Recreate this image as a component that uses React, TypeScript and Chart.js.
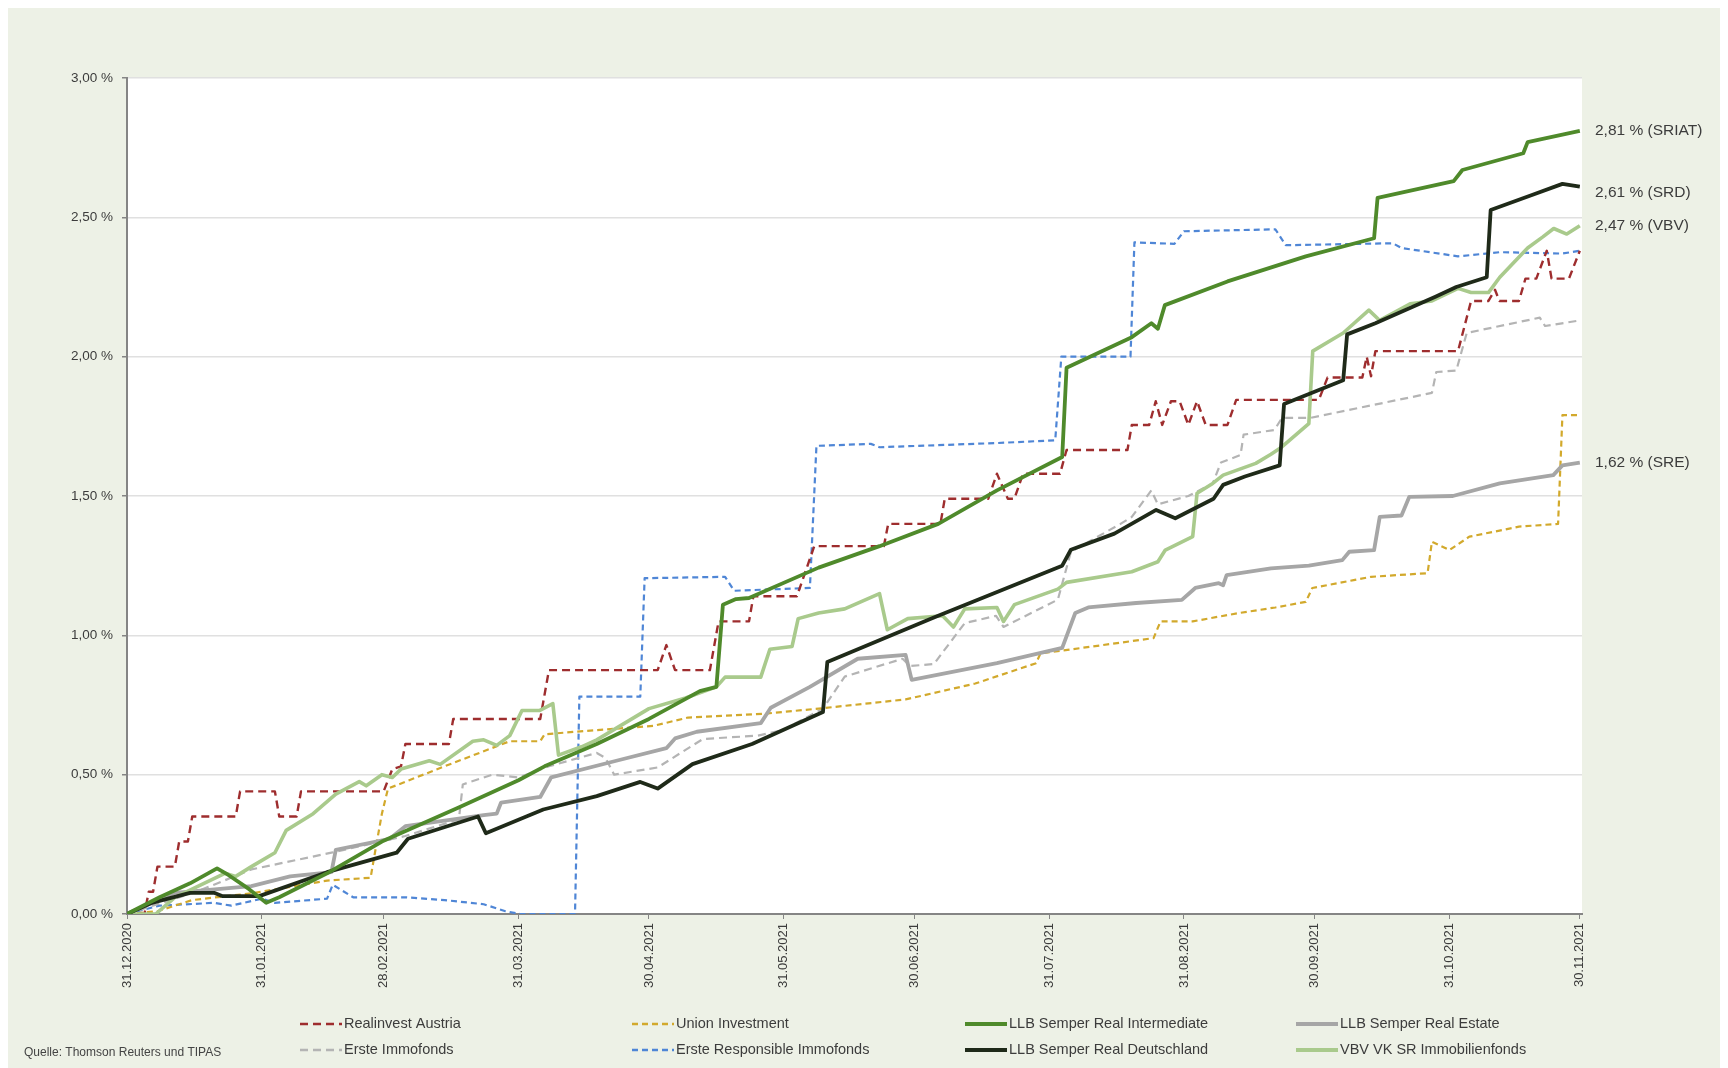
import React, { useEffect, useRef } from "react";
import { Chart, registerables } from "chart.js";

Chart.register(...registerables);

// ---------- data ----------
const monthEndDays = [0, 31, 59, 90, 120, 151, 181, 212, 243, 273, 304, 334];
const monthEndLabels = [
  "31.12.2020", "31.01.2021", "28.02.2021", "31.03.2021", "30.04.2021", "31.05.2021",
  "30.06.2021", "31.07.2021", "31.08.2021", "30.09.2021", "31.10.2021", "30.11.2021",
];
const yTickValues = [0, 0.5, 1, 1.5, 2, 2.5, 3];

const seriesNames = [
  "Realinvest Austria",
  "Union Investment",
  "LLB Semper Real Intermediate",
  "LLB Semper Real Estate",
  "Erste Immofonds",
  "Erste Responsible Immofonds",
  "LLB Semper Real Deutschland",
  "VBV VK SR Immobilienfonds",
];

// [day since 31.12.2020, performance in %]
const realinvestAustria: [number, number][] = [
  [0, 0], [4, 0], [5, 0.08], [6, 0.08], [7, 0.17], [11, 0.17], [12, 0.26], [14, 0.26], [15, 0.35],
  [25, 0.35], [26, 0.44], [34, 0.44], [35, 0.35], [39, 0.35], [40, 0.44], [59, 0.44], [61, 0.52],
  [63, 0.53], [64, 0.61], [74, 0.61], [75, 0.7], [95, 0.7], [97, 0.875], [122, 0.875], [124, 0.965],
  [126, 0.875], [134, 0.875], [136, 1.05], [143, 1.05], [144, 1.14], [154, 1.14], [158, 1.32],
  [174, 1.32], [175, 1.4], [187, 1.4], [188, 1.49], [198, 1.49], [200, 1.58], [202.5, 1.49],
  [204, 1.49], [206, 1.58], [214.5, 1.58], [216, 1.665], [230, 1.665], [231, 1.755], [235, 1.755],
  [236.5, 1.84], [238, 1.755], [240, 1.84], [242, 1.84], [244, 1.755], [246, 1.84], [248, 1.755],
  [253, 1.755], [255, 1.845], [274, 1.845], [276, 1.925], [284, 1.925], [285, 2.0], [286, 1.93],
  [287, 2.02], [306, 2.02], [309, 2.2], [313, 2.2], [314.5, 2.24], [315.5, 2.2], [320, 2.2],
  [321.5, 2.28], [324, 2.28], [326.4, 2.38], [327.5, 2.28], [331.5, 2.28], [334, 2.38],
];

const unionInvestment: [number, number][] = [
  [0, 0], [7, 0.01], [15, 0.05], [29, 0.075], [46, 0.12], [56, 0.13], [57, 0.22], [58.6, 0.36],
  [60, 0.45], [73, 0.53], [88, 0.62], [95, 0.62], [96, 0.645], [108, 0.66], [121, 0.675],
  [129, 0.705], [146, 0.718], [159, 0.737], [179, 0.77], [195, 0.827], [209, 0.9], [210, 0.935],
  [222, 0.96], [236, 0.99], [237.6, 1.05], [245, 1.05], [255.6, 1.08], [264, 1.1], [271, 1.12],
  [272.5, 1.17], [282, 1.198], [286, 1.21], [299, 1.223], [300, 1.336], [304, 1.306],
  [308.6, 1.354], [320, 1.39], [329, 1.4], [330, 1.79], [334, 1.79],
];

const llbSemperRealIntermediate: [number, number][] = [
  [0, 0], [7.5, 0.06], [14.5, 0.11], [20.7, 0.164], [23.3, 0.14], [28, 0.09], [32, 0.04],
  [35, 0.06], [46, 0.146], [58.6, 0.26], [76, 0.38], [90, 0.48], [96, 0.53], [108, 0.61],
  [120, 0.7], [131.7, 0.8], [135.5, 0.815], [137, 1.11], [140, 1.13], [143, 1.134], [159, 1.243],
  [173, 1.32], [186.5, 1.4], [200, 1.52], [215, 1.64], [216, 1.96], [231, 2.07], [235.5, 2.12],
  [237, 2.1], [238.6, 2.185], [253, 2.27], [271, 2.36], [286.7, 2.425], [287.5, 2.57], [305, 2.63],
  [307, 2.67], [321, 2.73], [322, 2.77], [334, 2.81],
];

const llbSemperRealEstate: [number, number][] = [
  [0, 0], [11, 0.076], [28.6, 0.1], [37.5, 0.135], [47, 0.15], [48, 0.23], [60.4, 0.27],
  [64, 0.315], [82, 0.355], [85, 0.36], [86, 0.4], [95, 0.42], [97.5, 0.49], [112.5, 0.55],
  [124, 0.595], [126, 0.63], [131, 0.654], [145.7, 0.685], [148, 0.74], [157, 0.815], [168, 0.916],
  [179, 0.93], [180.4, 0.84], [200, 0.9], [215, 0.955], [218, 1.08], [221, 1.1], [232, 1.116],
  [242.5, 1.127], [245.6, 1.17], [251, 1.187], [252, 1.18], [252.8, 1.216], [263, 1.24],
  [271.7, 1.25], [279.4, 1.27], [281, 1.3], [286.7, 1.306], [288, 1.425], [293, 1.43],
  [294.8, 1.497], [304.8, 1.5], [315.6, 1.545], [327.9, 1.575], [330, 1.61], [334, 1.62],
];

const ersteImmofonds: [number, number][] = [
  [0, 0], [15, 0.075], [20, 0.105], [28.6, 0.16], [47, 0.22], [64, 0.28], [76.3, 0.34],
  [77.2, 0.465], [84, 0.5], [90, 0.49], [97, 0.53], [108, 0.578], [110, 0.56], [112, 0.5],
  [122, 0.526], [132.4, 0.628], [145, 0.64], [150.8, 0.66], [160, 0.737], [165, 0.852],
  [178.3, 0.916], [180, 0.89], [185.5, 0.897], [192.6, 1.044], [199.8, 1.07], [201.5, 1.03],
  [214, 1.128], [217, 1.3], [228.4, 1.4], [231, 1.425], [235.5, 1.52], [237, 1.47], [244, 1.5],
  [249.6, 1.545], [251.5, 1.62], [256, 1.647], [256.7, 1.72], [263.8, 1.737], [265.5, 1.78],
  [272, 1.78], [300, 1.87], [301, 1.945], [305.6, 1.95], [308, 2.085], [324.8, 2.14], [326, 2.11],
  [334, 2.13],
];

const ersteResponsibleImmofonds: [number, number][] = [
  [0, 0], [7.5, 0.03], [20, 0.04], [24, 0.03], [31, 0.055], [34, 0.04], [46, 0.055], [47.3, 0.105],
  [52, 0.06], [64, 0.06], [73, 0.05], [82, 0.035], [87, 0.01], [90.4, 0], [103, 0], [104, 0.78],
  [118, 0.78], [119, 1.205], [137.5, 1.21], [139.6, 1.16], [157, 1.17], [158.5, 1.68], [171, 1.687],
  [173, 1.675], [200, 1.69], [213.4, 1.7], [214.8, 2.0], [230.7, 2.0], [231.6, 2.41], [240.8, 2.405],
  [243, 2.45], [264, 2.457], [266.4, 2.4], [291, 2.407], [293, 2.39], [306, 2.36], [315.6, 2.375],
  [330, 2.37], [334, 2.38],
];

const llbSemperRealDeutschland: [number, number][] = [
  [0, 0], [5.7, 0.04], [14.5, 0.076], [20, 0.076], [22, 0.064], [30.4, 0.064], [46, 0.15],
  [62, 0.22], [64.6, 0.27], [80.7, 0.35], [82.5, 0.29], [95.7, 0.375], [108, 0.423], [118, 0.474],
  [122, 0.45], [130, 0.538], [143.7, 0.61], [160, 0.725], [161, 0.904], [185.5, 1.064], [215, 1.25],
  [217, 1.307], [227, 1.365], [236.6, 1.45], [241, 1.42], [249.8, 1.49], [252, 1.54], [257, 1.57],
  [265, 1.61], [266, 1.83], [279.6, 1.915], [280.5, 2.08], [287, 2.12], [300.8, 2.215],
  [305.6, 2.25], [312.6, 2.285], [313.5, 2.526], [323, 2.58], [330, 2.62], [334, 2.61],
];

const vbvVkSrImmobilienfonds: [number, number][] = [
  [0, 0], [6.6, 0], [11, 0.06], [22.5, 0.146], [25, 0.135], [28.6, 0.17], [34, 0.22], [36.6, 0.3],
  [42.8, 0.36], [48, 0.43], [53.4, 0.475], [55, 0.46], [58.6, 0.5], [61, 0.49], [63, 0.52],
  [69.5, 0.55], [72, 0.537], [79.5, 0.62], [82, 0.625], [85, 0.605], [88, 0.64], [90.8, 0.73],
  [94.8, 0.73], [97.9, 0.755], [99.2, 0.57], [104.5, 0.6], [108, 0.625], [120, 0.737],
  [128.4, 0.775], [135.5, 0.815], [137.5, 0.85], [145.7, 0.85], [147.8, 0.95], [152.9, 0.96],
  [154.3, 1.06], [159, 1.08], [165, 1.095], [173, 1.15], [174.8, 1.02], [179.5, 1.06],
  [187.5, 1.07], [190, 1.03], [192.6, 1.095], [200, 1.1], [201.5, 1.05], [204, 1.11], [214, 1.166],
  [216, 1.19], [231, 1.228], [237, 1.264], [238.7, 1.306], [245, 1.354], [246, 1.51],
  [249.6, 1.545], [252, 1.575], [259.5, 1.617], [263, 1.65], [265.5, 1.676], [271.7, 1.76],
  [272.6, 2.02], [279.6, 2.085], [285.5, 2.167], [288, 2.13], [295, 2.19], [300, 2.2],
  [306, 2.245], [309, 2.23], [313, 2.23], [315.6, 2.285], [322, 2.39], [325.5, 2.43], [328, 2.46],
  [331, 2.44], [334, 2.47],
];

const seriesData = [
  realinvestAustria,
  unionInvestment,
  llbSemperRealIntermediate,
  llbSemperRealEstate,
  ersteImmofonds,
  ersteResponsibleImmofonds,
  llbSemperRealDeutschland,
  vbvVkSrImmobilienfonds,
];

const endLabelValues = [2.81, 2.61, 2.47, 1.62];
const endLabelTexts = ["2,81 % (SRIAT)", "2,61 % (SRD)", "2,47 % (VBV)", "1,62 % (SRE)"];
const sourceText = "Quelle: Thomson Reuters und TIPAS";

// ---------- styles ----------
const FONT = '"Liberation Sans", Arial, sans-serif';
const TEXT = "#3c3c3c";
const AXIS = "#858585";
const seriesColors = ["#9E2D2E", "#D2A92C", "#4F8A2B", "#A6A6A6", "#B4B4B4", "#4F86D6", "#1F2A19", "#A9CA8C"];
const seriesWidths = [2.4, 2.2, 3.8, 3.8, 2.2, 2.2, 3.8, 3.6];
const seriesDashes: number[][] = [[8, 5], [6, 4], [], [], [8, 5], [6, 4], [], []];
const seriesOrder = [4, 5, 0, 3, 6, 7, 1, 2];
const endLabelNudge = [0, 6, 0, 0];

const W = 1720;
const H = 1060;
const legendColX = [292, 624, 957, 1288];
const legendRowY = [1016, 1042];
const legendSampleLen = 42;

const plotBg = {
  id: "plotBg",
  beforeDraw(chart: any) {
    const { ctx, chartArea: a } = chart;
    ctx.save();
    ctx.fillStyle = "#ffffff";
    ctx.fillRect(a.left, a.top, a.right - a.left, a.bottom - a.top);
    ctx.restore();
  },
};

const annotations = {
  id: "annotations",
  afterDraw(chart: any) {
    const { ctx, chartArea: a } = chart;
    const yScale = chart.scales.y;
    ctx.save();
    ctx.fillStyle = TEXT;
    ctx.font = `15.5px ${FONT}`;
    ctx.textAlign = "left";
    ctx.textBaseline = "middle";
    endLabelValues.forEach((v, i) => {
      ctx.fillText(endLabelTexts[i], a.right + 13, yScale.getPixelForValue(v) + endLabelNudge[i]);
    });
    ctx.font = `14.5px ${FONT}`;
    seriesNames.forEach((name, i) => {
      const row = Math.floor(i / 4);
      const col = i % 4;
      const x = legendColX[col];
      const y = legendRowY[row];
      ctx.save();
      ctx.strokeStyle = seriesColors[i];
      ctx.lineWidth = seriesDashes[i].length ? 2.6 : 4;
      ctx.setLineDash(seriesDashes[i]);
      ctx.beginPath();
      ctx.moveTo(x, y);
      ctx.lineTo(x + legendSampleLen, y);
      ctx.stroke();
      ctx.restore();
      ctx.fillStyle = TEXT;
      ctx.fillText(name, x + legendSampleLen + 2, y);
    });
    ctx.font = `12px ${FONT}`;
    ctx.fillStyle = "#444";
    ctx.fillText(sourceText, 16, 1045);
    ctx.restore();
  },
};

export default function App() {
  const ref = useRef<HTMLCanvasElement | null>(null);

  useEffect(() => {
    document.body.style.overflow = "hidden";
    const canvas = ref.current;
    if (!canvas) return;
    const chart = new Chart(canvas, {
      type: "line",
      data: {
        datasets: seriesData.map((d, i) => ({
          label: seriesNames[i],
          data: d.map(([x, y]) => ({ x, y })),
          borderColor: seriesColors[i],
          backgroundColor: seriesColors[i],
          borderWidth: seriesWidths[i],
          borderDash: seriesDashes[i],
          borderJoinStyle: "round",
          pointRadius: 0,
          pointHoverRadius: 0,
          tension: 0,
          fill: false,
          order: seriesOrder[i],
        })),
      },
      options: {
        animation: false,
        responsive: false,
        maintainAspectRatio: false,
        parsing: false,
        layout: { padding: { left: 0, right: 146, top: 70, bottom: 54 } },
        plugins: { legend: { display: false }, tooltip: { enabled: false } },
        scales: {
          x: {
            type: "linear",
            min: 0,
            max: 334.5,
            afterBuildTicks: (s: any) => {
              s.ticks = monthEndDays.map((v) => ({ value: v }));
            },
            afterFit: (s: any) => {
              s.height = 100;
            },
            ticks: {
              autoSkip: false,
              minRotation: 90,
              maxRotation: 90,
              padding: 4,
              color: TEXT,
              font: { family: FONT, size: 13 },
              callback: (v: any) => {
                const i = monthEndDays.indexOf(Number(v));
                return i >= 0 ? monthEndLabels[i] : "";
              },
            },
            grid: { drawOnChartArea: false, drawTicks: true, tickLength: 5, tickColor: AXIS, color: AXIS },
            border: { display: true, color: AXIS, width: 2 },
          },
          y: {
            type: "linear",
            min: 0,
            max: 3,
            afterBuildTicks: (s: any) => {
              s.ticks = yTickValues.map((v) => ({ value: v }));
            },
            afterFit: (s: any) => {
              s.width = 119;
            },
            ticks: {
              padding: 9,
              color: TEXT,
              font: { family: FONT, size: 13.5 },
              callback: (v: any) => Number(v).toFixed(2).replace(".", ",") + " %",
            },
            grid: { color: "#e0e0e0", lineWidth: 1.5, tickLength: 5, tickColor: AXIS },
            border: { display: true, color: AXIS, width: 2 },
          },
        },
      },
      plugins: [plotBg, annotations],
    } as any);
    return () => chart.destroy();
  }, []);

  return (
    <div style={{ width: W, height: H, background: "#EDF1E6", position: "relative" }}>
      <canvas ref={ref} width={W} height={H} style={{ display: "block", width: W, height: H }} />
    </div>
  );
}
